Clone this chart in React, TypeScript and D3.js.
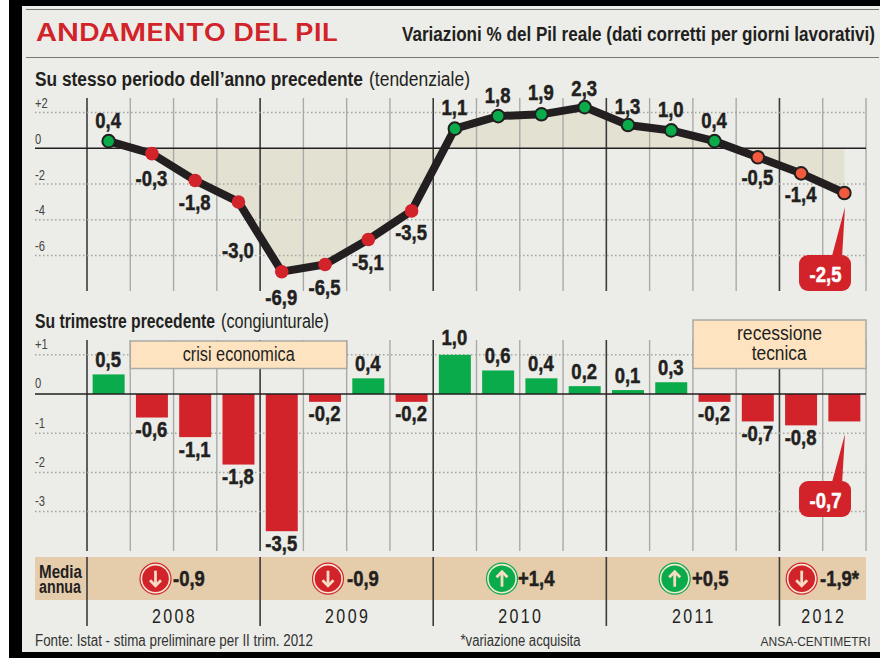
import React, { useEffect } from "react";
import * as d3 from "d3";

const quarters = ["2008T1","2008T2","2008T3","2008T4","2009T1","2009T2","2009T3","2009T4","2010T1","2010T2","2010T3","2010T4","2011T1","2011T2","2011T3","2011T4","2012T1","2012T2"];
const yoyValues = [0.4,-0.3,-1.8,-3.0,-6.9,-6.5,-5.1,-3.5,1.1,1.8,1.9,2.3,1.3,1.0,0.4,-0.5,-1.4,-2.5];
const qoqValues = [0.5,-0.6,-1.1,-1.8,-3.5,-0.2,0.4,-0.2,1.0,0.6,0.4,0.2,0.1,0.3,-0.2,-0.7,-0.8,-0.7];
const yoyTicks = [2,0,-2,-4,-6];
const qoqTicks = [1,0,-1,-2,-3];
const years = [2008,2009,2010,2011,2012];
const yearQuarters = [4,4,4,4,2];
const annualAverages = ["-0,9","-0,9","+1,4","+0,5","-1,9*"];
const annualUp = [false,false,true,true,false];

// label placement relative to each marker (styling, not data)
const yoyLabelDy = [-13,32,30,56,33,30,30,29,-14,-13,-14,-11,-11,-13,-13,28,29,0];
const annualCx = [155.5,328,502,674.7,801.7];
const annualTx = [173,347,518,692,820];

const INK = "#231f20";
const RED = "#d2232a";
const GREEN = "#0aab4a";
const ORANGE = "#f15a3c";
const SANS = "'Liberation Sans',sans-serif";

const x = d3.scaleLinear().domain([0, 18]).range([87, 866]);
const xc = (i: number) => x(i + 0.5);
const yT = d3.scaleLinear().domain([0, -6]).range([148.3, 255.6]);
const yB = d3.scaleLinear().domain([0, -3]).range([394, 511.6]);
const fmt = (v: number) => v.toFixed(1).replace(".", ",");
const tickFmt = (v: number) => (v > 0 ? `+${v}` : `${v}`);

const line = d3.line<number>().x((_, i) => xc(i)).y((v) => yT(v));
const area = d3.area<number>().x((_, i) => xc(i)).y0(yT(0)).y1((v) => yT(v));

const yearStart = (k: number) => d3.sum(yearQuarters.slice(0, k));
const isYearLine = (i: number) => yearQuarters.some((_, k) => yearStart(k) === i);

// condensed text: Liberation Sans squeezed horizontally
function T({ x, y, size, sx = 0.84, bold = false, anchor = "start", fill = INK, ls, children }: any) {
  return (
    <text transform={`translate(${x},${y}) scale(${sx},1)`} textAnchor={anchor} fontFamily={SANS}
      fontWeight={bold ? 700 : 400} fontSize={size} fill={fill} letterSpacing={ls}>{children}</text>
  );
}
// text fitted to a measured width
function W({ x, y, size, w, bold = false, weight, fill = INK, family = SANS, anchor = "start", children }: any) {
  return (
    <text x={x} y={y} fontFamily={family} fontWeight={weight ?? (bold ? 700 : 400)} fontSize={size} fill={fill}
      textAnchor={anchor} textLength={w} lengthAdjust="spacingAndGlyphs">{children}</text>
  );
}
const Value = ({ x, y, children, fill = INK }: any) => (
  <text transform={`translate(${x},${y}) scale(0.84,1)`} textAnchor="middle" fontFamily={SANS} fontWeight={700}
    fontSize={22} fill={fill} stroke={fill} strokeWidth={0.5}>{children}</text>
);

function Callout({ y0, tipY, label, base }: { y0: number; tipY: number; label: string; base: number }) {
  return (
    <g>
      <path d={`M831.5 ${y0 + 3} L845 ${tipY} L842 ${y0 + 3} Z`} fill={RED} />
      <rect x={799} y={y0} width={52} height={36} rx={9} fill={RED} />
      <Value x={825.5} y={base} fill="#fff">{label}</Value>
    </g>
  );
}

function Arrow({ cx, up }: { cx: number; up: boolean }) {
  const c = up ? GREEN : RED;
  const cy = 578.7;
  return (
    <g>
      <circle cx={cx} cy={cy} r={15.5} fill="#f3e6d3" stroke={c} strokeWidth={1.2} />
      <circle cx={cx} cy={cy} r={13.3} fill={c} />
      <g transform={`translate(${cx},${cy}) scale(1,${up ? -1 : 1})`} fill="none" stroke="#f5dcc5" strokeWidth={2.8}>
        <path d="M0 -8 V7" />
        <path d="M-5.5 1.5 L0 7 L5.5 1.5" />
      </g>
    </g>
  );
}

export default function App() {
  useEffect(() => { document.body.style.margin = "0"; document.body.style.background = "#fff"; }, []);
  const gridLines = d3.range(0, 19);
  return (
    <svg width={880} height={658} style={{ display: "block", position: "absolute", left: 0, top: 0 }}>
      <rect x={9} y={0} width={871} height={658} fill="#000" />
      <rect x={22} y={6} width={858} height={646} fill="#ecede8" />
      <line x1={26} x2={879} y1={9.5} y2={9.5} stroke="#777" strokeWidth={1.2} />
      <line x1={26} x2={879} y1={57.5} y2={57.5} stroke="#777" strokeWidth={1.2} />

      <W x={36} y={41} size={24} w={302} weight={600} family="Inter,'Liberation Sans',sans-serif" fill={RED}>ANDAMENTO DEL PIL</W>
      <W x={402} y={41} size={20.5} w={473} bold>Variazioni % del Pil reale (dati corretti per giorni lavorativi)</W>

      <W x={35} y={86} size={20} w={328} bold>Su stesso periodo dell’anno precedente</W>
      <W x={369} y={86} size={20} w={101}>(tendenziale)</W>

      {/* top chart */}
      <path d={area(yoyValues) ?? ""} fill="#e2e1d2" />
      {gridLines.map((i) => (
        <line key={i} x1={x(i)} x2={x(i)} y1={98} y2={291} stroke={isYearLine(i) ? "#3a3a3a" : "#a9aaa8"} strokeWidth={isYearLine(i) ? 1.6 : 1.4} />
      ))}
      {yoyTicks.map((t) => (
        <g key={t}>
          {t !== 0 && <line x1={35} x2={866} y1={yT(t)} y2={yT(t)} stroke="#a5a5a0" strokeWidth={1.5} strokeDasharray="1.5 2.5" />}
          <T x={35} y={yT(t) - 4.4} size={14} sx={0.8} fill="#444">{tickFmt(t)}</T>
        </g>
      ))}
      <line x1={35} x2={866} y1={yT(0)} y2={yT(0)} stroke={INK} strokeWidth={1.6} />
      <path d={line(yoyValues) ?? ""} fill="none" stroke={INK} strokeWidth={8} strokeLinejoin="miter" />
      {yoyValues.map((v, i) => {
        const late = i >= 15;
        return (
          <circle key={quarters[i]} cx={xc(i)} cy={yT(v)} r={late || v > 0 ? 6.3 : 6.8}
            fill={v > 0 ? GREEN : late ? ORANGE : RED}
            stroke={late || v > 0 ? INK : "none"} strokeWidth={2} />
        );
      })}
      {yoyValues.map((v, i) => i < 17 && (
        <Value key={quarters[i]} x={xc(i) - 0.5} y={yT(v) + yoyLabelDy[i]}>{fmt(v)}</Value>
      ))}
      <Callout y0={255} tipY={207} label={fmt(yoyValues[17])} base={281.5} />

      {/* bottom chart */}
      <W x={35} y={328} size={20} w={180} bold>Su trimestre precedente</W>
      <W x={221} y={328} size={20} w={108}>(congiunturale)</W>
      {gridLines.map((i) => (
        <line key={i} x1={x(i)} x2={x(i)} y1={340} y2={551} stroke={isYearLine(i) ? "#3a3a3a" : "#a9aaa8"} strokeWidth={isYearLine(i) ? 1.6 : 1.4} />
      ))}
      {qoqTicks.map((t) => (
        <g key={t}>
          {t !== 0 && <line x1={35} x2={866} y1={yB(t)} y2={yB(t)} stroke="#a5a5a0" strokeWidth={1.5} strokeDasharray="1.5 2.5" />}
          <T x={35} y={yB(t) - 5.7} size={14} sx={0.8} fill="#444">{tickFmt(t)}</T>
        </g>
      ))}
      <rect x={130.3} y={341} width={216.5} height={27.5} fill="#fee3c0" stroke="#a9a9a5" strokeWidth={1.5} />
      <W x={182.7} y={360.7} size={20} w={112}>crisi economica</W>
      <rect x={693} y={320} width={173} height={48.5} fill="#fee3c0" stroke="#a9a9a5" strokeWidth={1.5} />
      <W x={737} y={340} size={20} w={85}>recessione</W>
      <W x={751.7} y={360} size={20} w={55}>tecnica</W>
      {qoqValues.map((v, i) => (
        <rect key={quarters[i]} x={xc(i) - 16} width={32} y={v > 0 ? yB(v) : yB(0)} height={Math.abs(yB(v) - yB(0))} fill={v > 0 ? GREEN : RED} />
      ))}
      <line x1={35} x2={866} y1={yB(0)} y2={yB(0)} stroke={INK} strokeWidth={1.6} />
      {qoqValues.map((v, i) => i < 17 && (
        <Value key={quarters[i]} x={xc(i) - 0.5} y={v > 0 ? yB(v) - (v === 1 ? 10 : 7) : yB(v) + 19.5}>{fmt(v)}</Value>
      ))}
      <Callout y0={481} tipY={434} label={fmt(qoqValues[17])} base={508} />

      {/* annual band */}
      <rect x={35} y={557} width={831} height={43} fill="#e5cdac" />
      <W x={39} y={577.5} size={18} w={43} bold>Media</W>
      <W x={39} y={593} size={18} w={42} bold>annua</W>
      {years.map((yr, k) => {
        const s = yearStart(k);
        return (
          <g key={yr}>
            <line x1={x(s)} x2={x(s)} y1={557} y2={626} stroke="#3a3a3a" strokeWidth={1.6} />
            <Arrow cx={annualCx[k]} up={annualUp[k]} />
            <text transform={`translate(${annualTx[k]},586) scale(0.84,1)`} fontFamily={SANS} fontWeight={700} fontSize={22}
              fill={INK} stroke={INK} strokeWidth={0.5}>{annualAverages[k]}</text>
            <T x={x(s + yearQuarters[k] / 2) + 1} y={622.5} size={20} sx={0.8} ls={3} anchor="middle">{yr}</T>
          </g>
        );
      })}
      <W x={35} y={646} size={16} w={278} fill="#333">Fonte: Istat - stima preliminare per II trim. 2012</W>
      <W x={460.5} y={646} size={16} w={120} fill="#333">*variazione acquisita</W>
      <W x={760.5} y={646} size={12.5} w={110} fill="#333">ANSA-CENTIMETRI</W>
    </svg>
  );
}
